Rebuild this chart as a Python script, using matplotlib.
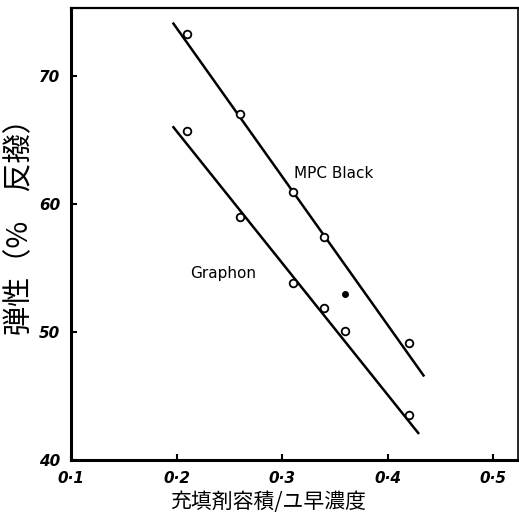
import matplotlib.pyplot as plt

plt.rcParams['font.family'] = ['Noto Sans CJK JP', 'DejaVu Sans']

# data
mpc_x = [0.21, 0.26, 0.31, 0.34, 0.42]
mpc_y = [73.3, 67.0, 60.9, 57.4, 49.1]
mpc_line_x = [0.197, 0.434]
mpc_line_y = [74.1, 46.6]

extra_x = [0.36]
extra_y = [53.0]

graphon_x = [0.21, 0.26, 0.31, 0.34, 0.36, 0.42]
graphon_y = [65.7, 59.0, 53.8, 51.9, 50.1, 43.5]
graphon_line_x = [0.197, 0.429]
graphon_line_y = [66.0, 42.1]

x_ticks = [0.1, 0.2, 0.3, 0.4, 0.5]
x_labels = ['0·1', '0·2', '0·3', '0·4', '0·5']
y_ticks = [40, 50, 60, 70]
y_labels = ['40', '50', '60', '70']

fig = plt.figure(figsize=(5.19, 5.15), dpi=100)
ax = fig.add_axes([0.137, 0.107, 0.862, 0.877])

ax.plot(mpc_line_x, mpc_line_y, color='black', lw=1.8)
ax.plot(graphon_line_x, graphon_line_y, color='black', lw=1.8)
ax.plot(mpc_x, mpc_y, 'o', ms=5.5, mfc='white', mec='black', mew=1.3)
ax.plot(graphon_x, graphon_y, 'o', ms=5.5, mfc='white', mec='black', mew=1.3)
ax.plot(extra_x, extra_y, 'o', ms=4, color='black')

ax.text(0.311, 62.4, 'MPC Black', fontsize=11, family='DejaVu Sans', va='center')
ax.text(0.213, 54.6, 'Graphon', fontsize=11, family='DejaVu Sans', va='center')

ax.set_xlim(0.1, 0.524)
ax.set_ylim(40, 75.3)
ax.set_xticks(x_ticks)
ax.set_xticklabels(x_labels, fontsize=11, style='italic', fontweight='bold', family='DejaVu Sans')
ax.set_yticks(y_ticks)
ax.set_yticklabels(y_labels, fontsize=11, style='italic', fontweight='bold', family='DejaVu Sans')
ax.tick_params(direction='in', length=4, width=1.5, pad=8)

for s in ax.spines.values():
    s.set_linewidth(2.2)
ax.spines['right'].set_linewidth(1.2)
ax.spines['top'].set_linewidth(1.6)

# axis titles placed by hand, the scan has them off-centre
fig.text(268 / 519, 1 - 502 / 515, '充填剤容積/ユ早濃度', fontsize=15, ha='center', va='center')
fig.text(20 / 519, 1 - 220 / 515, '弾性（%　反撥）', fontsize=21, rotation=90, ha='center', va='center')

fig.savefig('out.png', dpi=100)
